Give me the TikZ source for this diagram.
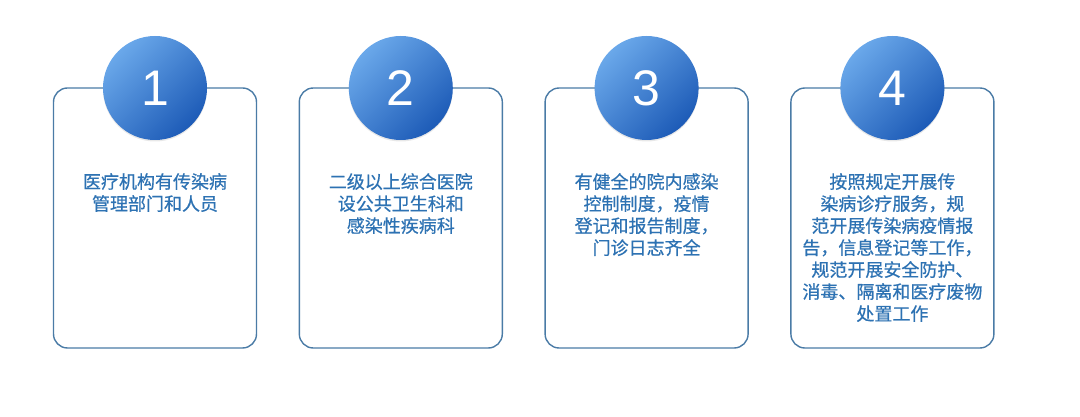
\documentclass[tikz,border=0pt]{standalone}
\usepackage{fontspec}
\setmainfont{Liberation Sans}
\newfontfamily\cjk[FakeBold=0.6]{Noto Sans CJK SC}
\usepackage{tikz}
\usetikzlibrary{positioning,shadows}
\definecolor{borde}{HTML}{4A7BA6}
\definecolor{texto}{HTML}{2D72B3}
\definecolor{claro}{HTML}{6AA8EA}
\definecolor{oscuro}{HTML}{1D5BB7}

\begin{document}
\begin{tikzpicture}[x=1pt,y=1pt,
  every node/.style={inner sep=0pt},
  tarjeta/.style={draw=borde,line width=1.4pt,fill=white,rounded corners=14pt,
                  minimum width=203pt,minimum height=260pt},
  circulo/.style={circle,minimum size=104pt,left color=claro,right color=oscuro,
                  shading angle=45,drop shadow={shadow xshift=0pt,shadow yshift=-1.5pt,opacity=.18},
                  text=white,font=\fontsize{50}{50}\selectfont},
  nota/.style={anchor=north,align=center,text=texto,
               font=\cjk\fontsize{18}{22}\selectfont}
]
\useasboundingbox (0,0) rectangle (1080,417);
\foreach \k/\txt [count=\c from 0] in
  {1/{医疗机构有传染病\\管理部门和人员},
   2/{二级以上综合医院\\设公共卫生科和\\感染性疾病科},
   3/{有健全的院内感染\\控制制度，疫情\\登记和报告制度，\\门诊日志齐全},
   4/{按照规定开展传\\染病诊疗服务，规\\范开展传染病疫情报\\告，信息登记等工作，\\规范开展安全防护、\\消毒、隔离和医疗废物\\处置工作}} {
  \node[tarjeta] (tarjeta\k) at (155+245.8*\c, 199) {};
  \node[circulo] (circulo\k) at (155+245.8*\c, 329) {\k};
  \node[nota] (texto\k) at (155+245.8*\c, 244) {\txt};
}
\end{tikzpicture}
\end{document}
